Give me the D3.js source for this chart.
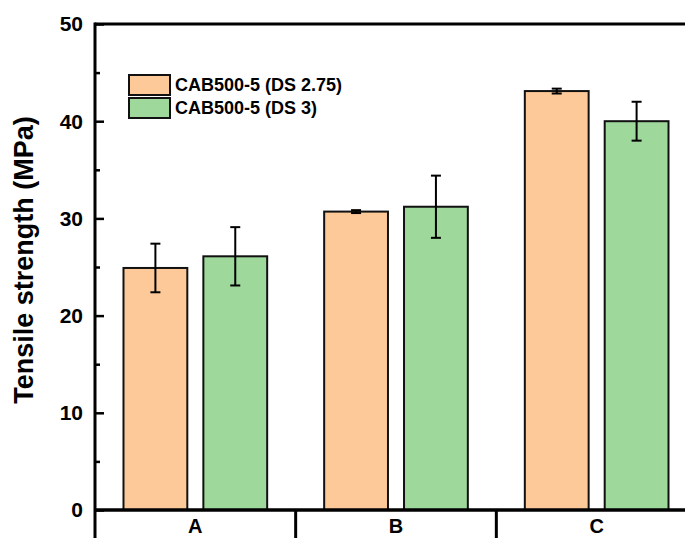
<!DOCTYPE html>
<html>
<head>
<meta charset="utf-8">
<script src="https://cdn.jsdelivr.net/npm/d3@7"></script>
<style>
  html, body { margin: 0; padding: 0; background: #fff; }
  svg { display: block; font-family: "Liberation Sans", Arial, sans-serif; font-weight: bold; }
</style>
</head>
<body>
<svg id="chart" width="685" height="538"></svg>
<script>
// Tensile strength of two CAB500-5 grades across three samples
const categories = ["A", "B", "C"];
const seriesNames = ["CAB500-5 (DS 2.75)", "CAB500-5 (DS 3)"];
const seriesColors = ["#FDC998", "#9ED89B"];
const meanDS275 = [24.9, 30.7, 43.1];
const errDS275  = [2.5, 0.15, 0.25];
const meanDS3   = [26.1, 31.2, 40.0];
const errDS3    = [3.0, 3.2, 2.0];
const yTicks = [0, 10, 20, 30, 40, 50];
const yMinorTicks = [5, 15, 25, 35, 45];

const svg = d3.select("#chart");
const margin = { left: 95, right: -12, top: 24, bottom: 28 };
const W = 685, H = 538;
const x0 = margin.left, x1 = W - margin.right;
const yTop = margin.top, yBot = H - margin.bottom;

const x = d3.scaleBand().domain(categories).range([x0, x1]).paddingInner(0).paddingOuter(0);
const y = d3.scaleLinear().domain([0, 50]).range([yBot, yTop]);

const groupWidth = x.bandwidth();
const barW = groupWidth * 0.318;
const gap = groupWidth * 0.08;

const series = [
  { name: seriesNames[0], color: seriesColors[0], mean: meanDS275, err: errDS275, offset: -(gap / 2 + barW) },
  { name: seriesNames[1], color: seriesColors[1], mean: meanDS3, err: errDS3, offset: gap / 2 }
];

// bars with error bars
series.forEach(s => {
  const g = svg.append("g");
  categories.forEach((c, i) => {
    const cx = x(c) + groupWidth / 2;
    const bx = cx + s.offset;
    g.append("rect")
      .attr("x", bx).attr("y", y(s.mean[i]))
      .attr("width", barW).attr("height", y(0) - y(s.mean[i]))
      .attr("fill", s.color).attr("stroke", "#111").attr("stroke-width", 2);
    const mx = bx + barW / 2;
    const hi = y(s.mean[i] + s.err[i]), lo = y(s.mean[i] - s.err[i]);
    g.append("line").attr("x1", mx).attr("x2", mx).attr("y1", hi).attr("y2", lo)
      .attr("stroke", "#000").attr("stroke-width", 2);
    [hi, lo].forEach(yy => g.append("line")
      .attr("x1", mx - 5).attr("x2", mx + 5).attr("y1", yy).attr("y2", yy)
      .attr("stroke", "#000").attr("stroke-width", 2));
  });
});

// y axis: inward ticks
const yAxis = d3.axisRight(y).tickValues(yTicks).tickSize(9).tickFormat("");
const yg = svg.append("g").attr("transform", `translate(${x0},0)`).call(yAxis);
yg.select(".domain").remove();
yg.selectAll(".tick line").attr("stroke", "#000").attr("stroke-width", 2.5);
const yMinor = d3.axisRight(y).tickValues(yMinorTicks).tickSize(5).tickFormat("");
const ymg = svg.append("g").attr("transform", `translate(${x0},0)`).call(yMinor);
ymg.select(".domain").remove();
ymg.selectAll(".tick line").attr("stroke", "#000").attr("stroke-width", 2.5);

svg.append("g").selectAll("text").data(yTicks).join("text")
  .attr("x", x0 - 12).attr("y", d => y(d)).attr("dy", "0.35em")
  .attr("text-anchor", "end").attr("font-size", 21).text(d => d);

// frame lines
svg.append("line").attr("x1", x0).attr("x2", x0).attr("y1", yTop - 1.5).attr("y2", H)
  .attr("stroke", "#000").attr("stroke-width", 3);
svg.append("line").attr("x1", x0).attr("x2", W).attr("y1", yTop).attr("y2", yTop)
  .attr("stroke", "#000").attr("stroke-width", 3);
svg.append("line").attr("x1", x0).attr("x2", W).attr("y1", yBot).attr("y2", yBot)
  .attr("stroke", "#000").attr("stroke-width", 3.5);

// category separators and labels
const seps = categories.map(c => x(c)).concat([x(categories[categories.length - 1]) + groupWidth]);
svg.append("g").selectAll("line").data(seps.slice(1)).join("line")
  .attr("x1", d => d).attr("x2", d => d).attr("y1", yBot).attr("y2", H)
  .attr("stroke", "#000").attr("stroke-width", 3);
svg.append("g").selectAll("text").data(categories).join("text")
  .attr("x", d => x(d) + groupWidth / 2).attr("y", yBot + 23)
  .attr("text-anchor", "middle").attr("font-size", 20).text(d => d);

// y axis title
svg.append("text")
  .attr("transform", `translate(33,260) rotate(-90)`)
  .attr("text-anchor", "middle").attr("font-size", 27)
  .text("Tensile strength (MPa)");

// legend
const lg = svg.append("g").attr("transform", "translate(129,75)");
series.forEach((s, i) => {
  lg.append("rect").attr("x", 0).attr("y", i * 23).attr("width", 41).attr("height", 20)
    .attr("fill", s.color).attr("stroke", "#111").attr("stroke-width", 2);
  lg.append("text").attr("x", 46).attr("y", i * 23 + 10).attr("dy", "0.35em")
    .attr("font-size", 18).text(s.name);
});
</script>
</body>
</html>
